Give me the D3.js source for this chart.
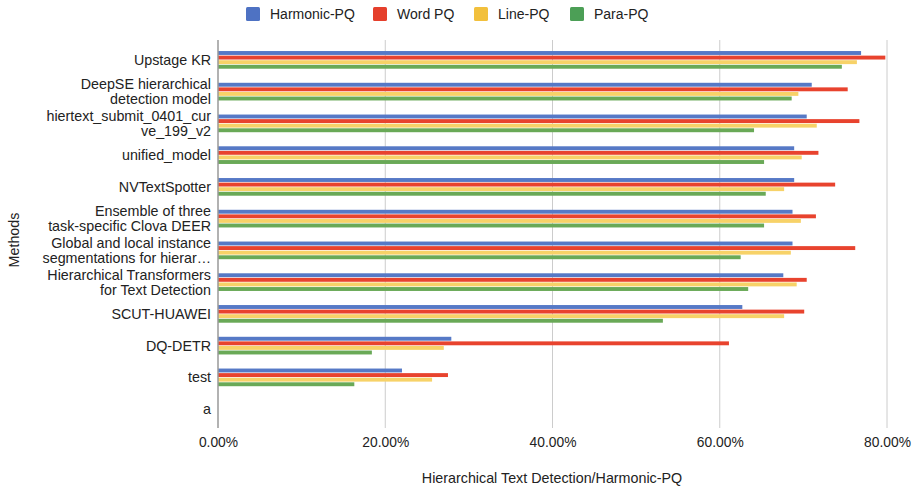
<!DOCTYPE html>
<html><head><meta charset="utf-8">
<script src="https://cdn.jsdelivr.net/npm/d3@7"></script>
<style>body{margin:0;background:#fff;} text{font-family:"Liberation Sans",Arial,sans-serif;fill:#222;}</style>
</head><body><svg id="c" width="919" height="488"></svg>
<script>
const categories = [
  ["Upstage KR"],
  ["DeepSE hierarchical","detection model"],
  ["hiertext_submit_0401_cur","ve_199_v2"],
  ["unified_model"],
  ["NVTextSpotter"],
  ["Ensemble of three","task-specific Clova DEER"],
  ["Global and local instance","segmentations for hierar…"],
  ["Hierarchical Transformers","for Text Detection"],
  ["SCUT-HUAWEI"],
  ["DQ-DETR"],
  ["test"],
  ["a"]
];
const seriesNames = ["Harmonic-PQ","Word PQ","Line-PQ","Para-PQ"];
const harmonic = [0.769,0.710,0.704,0.689,0.689,0.687,0.687,0.676,0.627,0.279,0.220,null];
const wordPQ   = [0.798,0.753,0.767,0.718,0.738,0.715,0.762,0.704,0.701,0.611,0.275,null];
const linePQ   = [0.764,0.694,0.716,0.698,0.677,0.697,0.685,0.692,0.677,0.270,0.256,null];
const paraPQ   = [0.746,0.686,0.641,0.653,0.655,0.653,0.625,0.634,0.532,0.184,0.163,null];
const xTicks = [0,0.2,0.4,0.6,0.8];

const seriesValues = [harmonic, wordPQ, linePQ, paraPQ];
const barColors = ["#5679c6","#e8432e","#f7d268","#69a957"];
const legendColors = ["#4e72c3","#e53f2c","#f2c03c","#4c9f56"];

const svg = d3.select("#c");
const x = d3.scaleLinear().domain([0,0.8]).range([218,887]);
const idx = categories.map((d,i)=>i);
const y = d3.scaleBand().domain(idx).range([44,425]).paddingInner(0.4).paddingOuter(0.2);
const yi = d3.scaleBand().domain(d3.range(4)).range([0,y.bandwidth()]).padding(0.15);

// gridlines
svg.append("g").selectAll("line").data(xTicks.slice(1)).join("line")
  .attr("x1",d=>x(d)).attr("x2",d=>x(d)).attr("y1",40).attr("y2",428)
  .attr("stroke","#cccccc").attr("stroke-width",1);

// bars
const g = svg.append("g");
idx.forEach(i=>{
  seriesValues.forEach((vals,s)=>{
    const v = vals[i];
    if (v==null) return;
    g.append("rect")
      .attr("x",x(0)).attr("y",y(i)+yi(s))
      .attr("width",x(v)-x(0)).attr("height",yi.bandwidth())
      .attr("fill",barColors[s]);
  });
});

// axis line
svg.append("line").attr("x1",x(0)).attr("x2",x(0)).attr("y1",40).attr("y2",428)
  .attr("stroke","#999").attr("stroke-width",1.5);

// x axis tick labels
const xa = d3.axisBottom(x).tickValues(xTicks).tickFormat(d=>d3.format(".2f")(d*100)+"%").tickSize(0).tickPadding(0);
const xg = svg.append("g").attr("transform","translate(0,437)").call(xa);
xg.select(".domain").remove();
xg.selectAll("text").attr("font-size","13.8px").attr("dy","0.71em").attr("fill","#222")
  .style("font-family","Liberation Sans, Arial, sans-serif");

// y labels
const yl = svg.append("g");
idx.forEach(i=>{
  const lines = categories[i];
  const cy = y(i)+y.bandwidth()/2;
  const lh = 15;
  const t = yl.append("text").attr("text-anchor","end").attr("font-size","14.3px");
  lines.forEach((ln,k)=>{
    t.append("tspan").attr("x",211)
      .attr("y",cy + (k-(lines.length-1)/2)*lh).attr("dy","0.35em").text(ln);
  });
});

// axis titles
svg.append("text").attr("x",552).attr("y",483).attr("text-anchor","middle")
  .attr("font-size","14.3px").text("Hierarchical Text Detection/Harmonic-PQ");
svg.append("text").attr("transform","translate(19,240) rotate(-90)").attr("text-anchor","middle")
  .attr("font-size","14.3px").text("Methods");

// legend
const legX = [246,373,474,570];
const lg = svg.append("g");
seriesNames.forEach((n,s)=>{
  lg.append("rect").attr("x",legX[s]).attr("y",7).attr("width",14).attr("height",14)
    .attr("rx",1.5).attr("fill",legendColors[s]);
  lg.append("text").attr("x",legX[s]+24).attr("y",14).attr("dy","0.35em")
    .attr("font-size","14px").text(n);
});
</script></body></html>
